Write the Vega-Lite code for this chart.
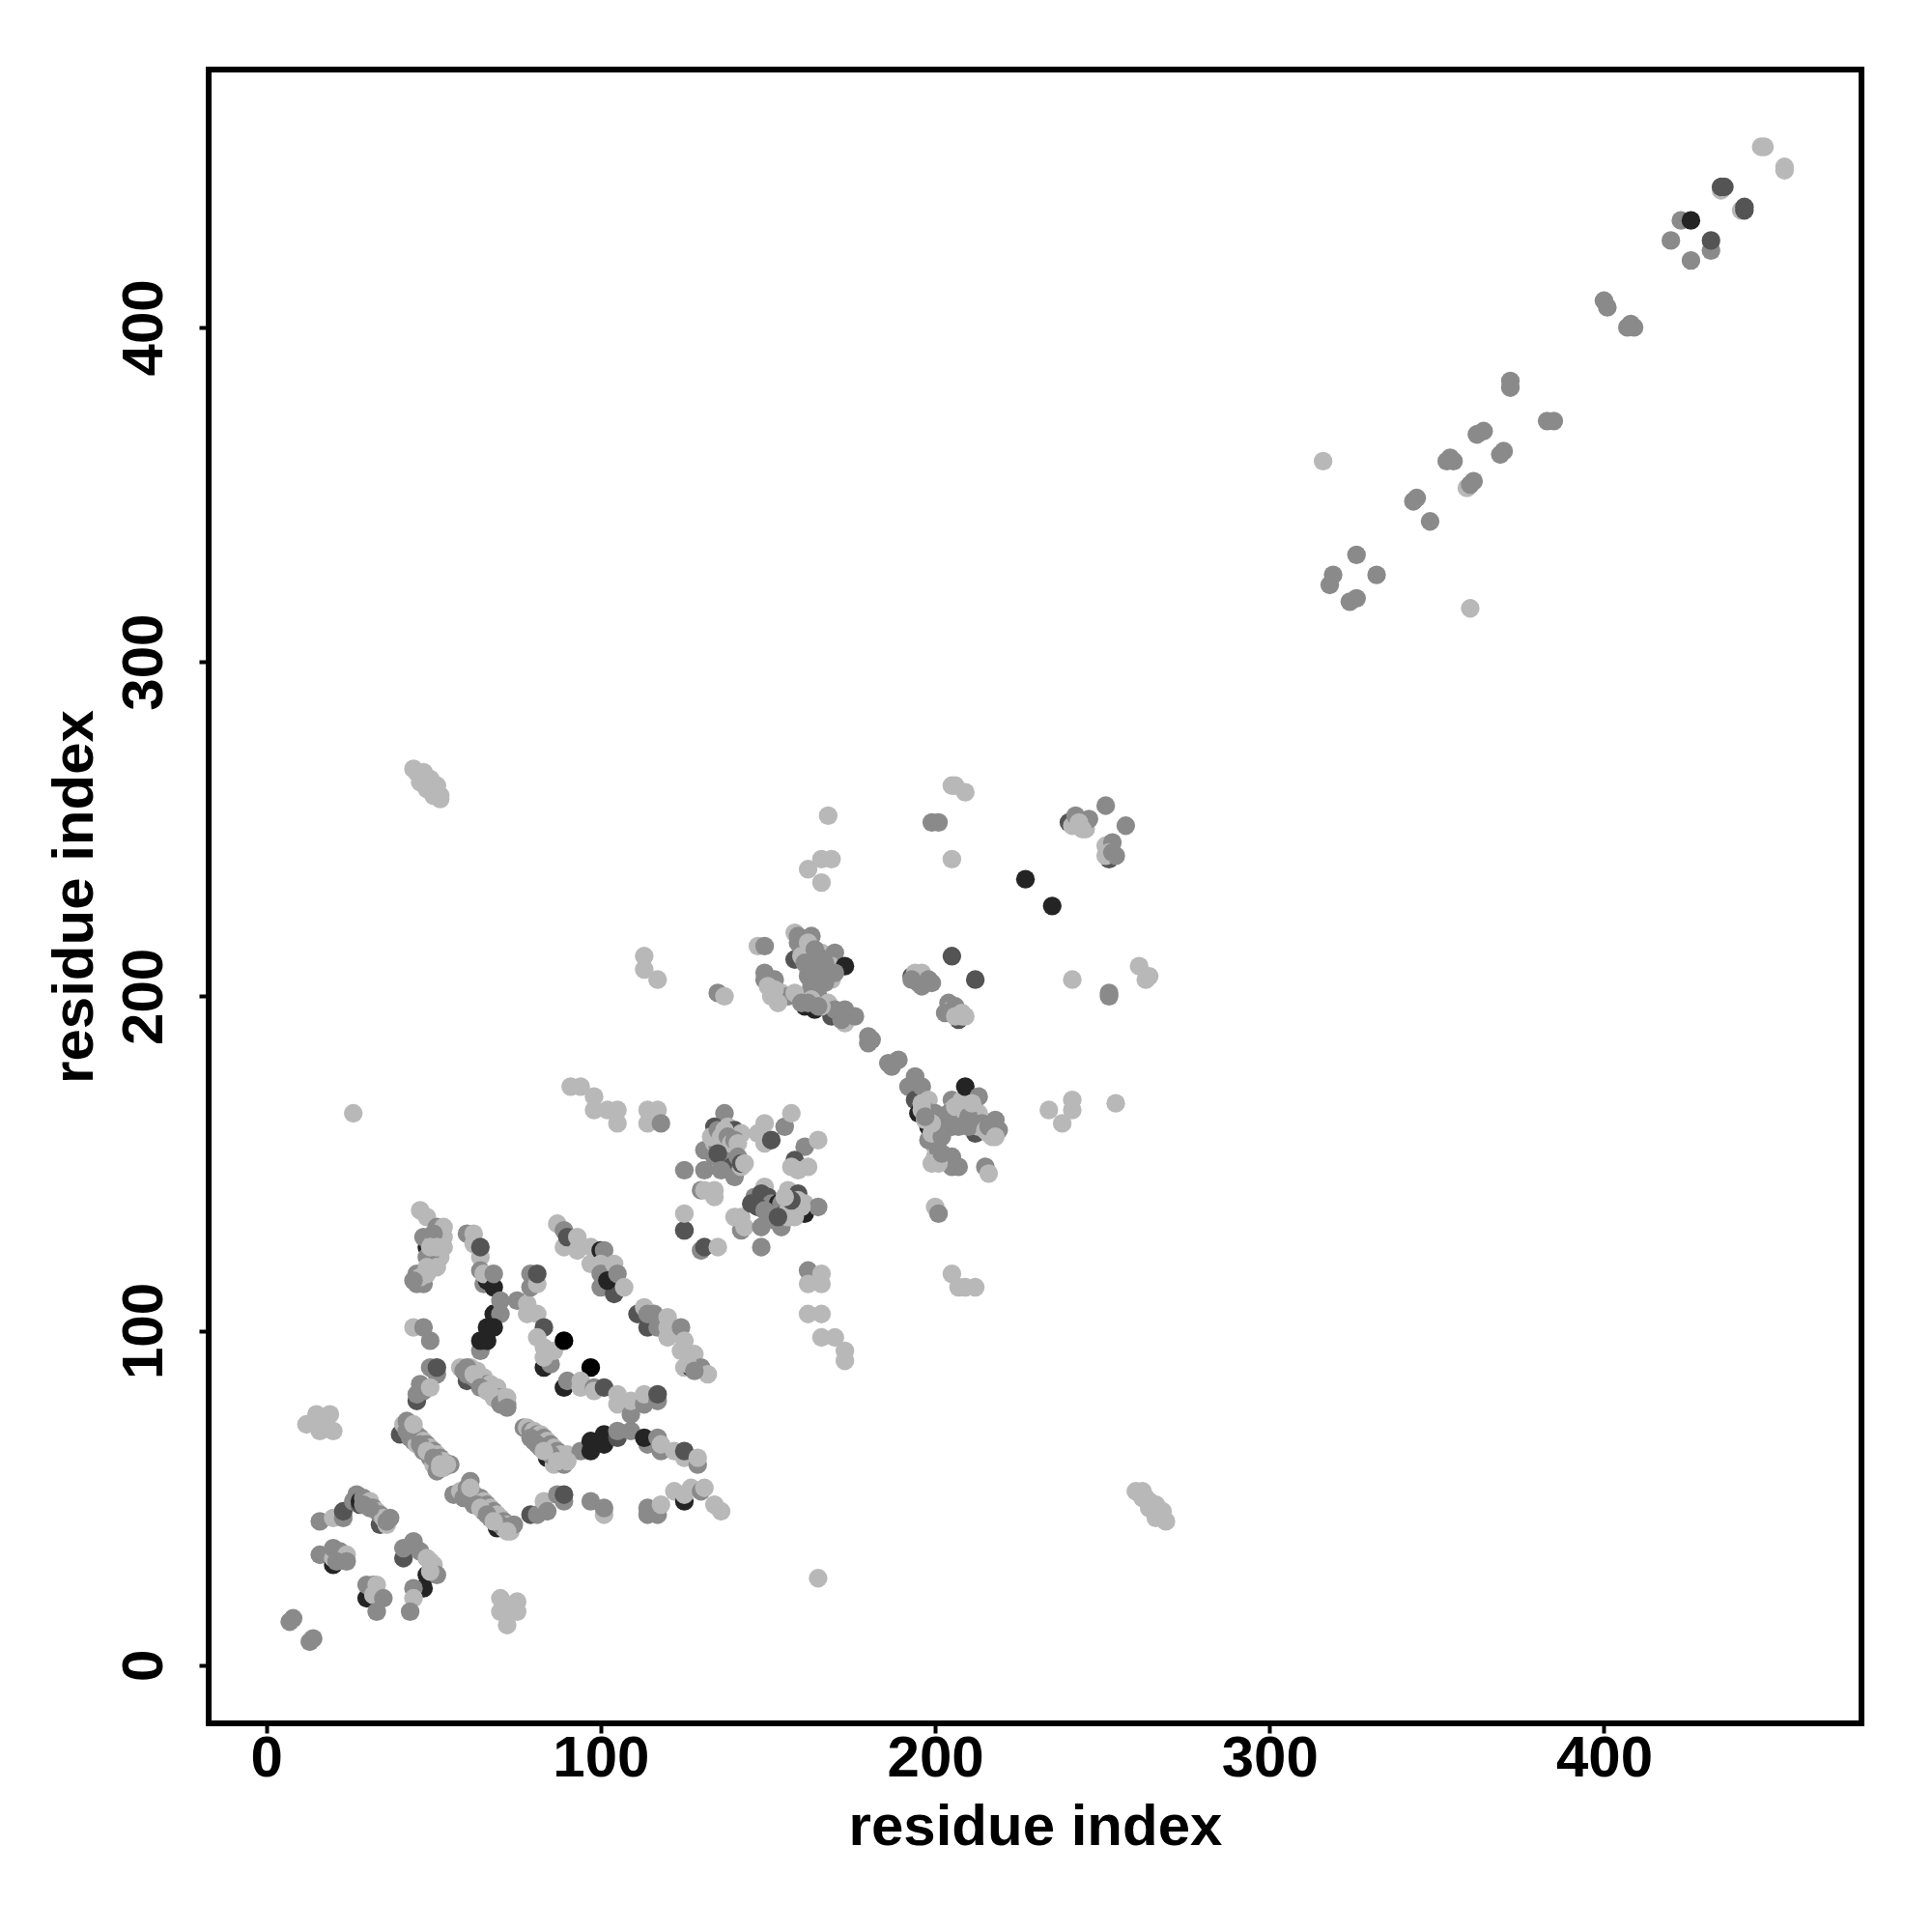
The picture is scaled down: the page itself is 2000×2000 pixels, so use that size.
{"$schema":"https://vega.github.io/schema/vega-lite/v6.json","width":1711,"height":1712,"autosize":{"type":"none"},"padding":{"left":216,"top":72,"right":73,"bottom":216},"background":"white","view":{"stroke":"black","strokeWidth":6,"fill":"white"},"config":{"font":"Liberation Sans"},
"data":{"values":[
{"x":7,"y":13,"v":54},{"x":8,"y":14,"v":54},{"x":13,"y":7,"v":54},{"x":14,"y":8,"v":54},
{"x":16,"y":43,"v":54},{"x":20,"y":44,"v":72},{"x":23,"y":44,"v":54},{"x":23,"y":46,"v":33},{"x":26,"y":49,"v":54},{"x":27,"y":51,"v":54},{"x":28,"y":48,"v":33},{"x":28,"y":49,"v":14},{"x":29,"y":50,"v":54},{"x":30,"y":48,"v":14},{"x":31,"y":49,"v":72},{"x":32,"y":47,"v":54},{"x":33,"y":46,"v":72},{"x":34,"y":42,"v":33},{"x":36,"y":42,"v":72},{"x":34,"y":45,"v":54},{"x":35,"y":44,"v":72},{"x":36,"y":43,"v":54},{"x":37,"y":44,"v":54},
{"x":16,"y":33,"v":54},{"x":20,"y":30,"v":14},{"x":20,"y":32,"v":72},{"x":20,"y":35,"v":54},{"x":22,"y":34,"v":54},{"x":24,"y":33,"v":72},{"x":24,"y":31,"v":54},
{"x":30,"y":20,"v":14},{"x":30,"y":24,"v":54},{"x":32,"y":24,"v":54},{"x":33,"y":24,"v":72},{"x":32,"y":21,"v":72},{"x":35,"y":20,"v":54},{"x":33,"y":16,"v":54},
{"x":41,"y":32,"v":33},{"x":41,"y":35,"v":54},{"x":44,"y":37,"v":54},{"x":46,"y":34,"v":54},{"x":48,"y":32,"v":72},{"x":49,"y":31,"v":72},{"x":50,"y":30,"v":72},{"x":48,"y":27,"v":14},{"x":51,"y":27,"v":54},{"x":47,"y":23,"v":14},{"x":44,"y":23,"v":54},{"x":44,"y":20,"v":72},{"x":43,"y":16,"v":54},
{"x":70,"y":20,"v":72},{"x":75,"y":19,"v":72},{"x":70,"y":16,"v":72},{"x":75,"y":16,"v":72},{"x":72,"y":12,"v":72},{"x":72,"y":18,"v":72},
{"x":12,"y":72,"v":72},{"x":15,"y":75,"v":72},{"x":19,"y":75,"v":72},{"x":16,"y":70,"v":72},{"x":20,"y":70,"v":72},{"x":17,"y":72,"v":72},
{"x":40,"y":69,"v":33},{"x":41,"y":72,"v":72},{"x":42,"y":73,"v":54},{"x":43,"y":72,"v":54},{"x":43,"y":68,"v":54},{"x":44,"y":67,"v":54},{"x":44,"y":70,"v":54},{"x":45,"y":69,"v":72},{"x":45,"y":66,"v":72},{"x":46,"y":68,"v":54},{"x":47,"y":67,"v":72},{"x":47,"y":64,"v":54},{"x":48,"y":66,"v":54},{"x":49,"y":65,"v":72},{"x":49,"y":62,"v":54},{"x":50,"y":64,"v":54},{"x":50,"y":60,"v":72},{"x":51,"y":63,"v":72},{"x":51,"y":58,"v":54},{"x":52,"y":59,"v":72},{"x":52,"y":62,"v":54},{"x":53,"y":59,"v":72},{"x":53,"y":61,"v":72},{"x":55,"y":60,"v":54},
{"x":56,"y":51,"v":54},{"x":58,"y":52,"v":72},{"x":60,"y":50,"v":54},{"x":60,"y":53,"v":54},{"x":61,"y":55,"v":54},{"x":62,"y":48,"v":54},{"x":62,"y":51,"v":54},{"x":63,"y":50,"v":72},{"x":64,"y":50,"v":54},{"x":65,"y":46,"v":54},{"x":65,"y":49,"v":72},{"x":66,"y":48,"v":54},{"x":67,"y":44,"v":54},{"x":67,"y":47,"v":72},{"x":68,"y":46,"v":54},{"x":69,"y":41,"v":14},{"x":69,"y":45,"v":72},{"x":70,"y":44,"v":72},{"x":71,"y":41,"v":72},{"x":71,"y":43,"v":54},{"x":72,"y":42,"v":72},{"x":73,"y":40,"v":72},{"x":74,"y":42,"v":54},
{"x":79,"y":45,"v":33},{"x":81,"y":45,"v":54},{"x":83,"y":49,"v":72},{"x":84,"y":46,"v":54},{"x":87,"y":51,"v":54},{"x":89,"y":49,"v":54},{"x":89,"y":51,"v":33},{"x":97,"y":49,"v":54},{"x":101,"y":45,"v":72},{"x":101,"y":47,"v":54},
{"x":114,"y":47,"v":54},{"x":114,"y":45,"v":54},{"x":117,"y":45,"v":54},{"x":118,"y":48,"v":72},{"x":122,"y":52,"v":72},{"x":125,"y":49,"v":14},{"x":125,"y":51,"v":72},{"x":127,"y":53,"v":72},{"x":130,"y":52,"v":54},{"x":131,"y":53,"v":72},{"x":134,"y":48,"v":72},{"x":136,"y":46,"v":72},
{"x":77,"y":71,"v":54},{"x":78,"y":71,"v":72},{"x":79,"y":70,"v":54},{"x":80,"y":70,"v":72},{"x":80,"y":67,"v":54},{"x":81,"y":69,"v":54},{"x":82,"y":65,"v":54},{"x":82,"y":69,"v":72},{"x":83,"y":68,"v":54},{"x":84,"y":62,"v":14},{"x":84,"y":67,"v":72},{"x":85,"y":66,"v":54},{"x":86,"y":60,"v":72},{"x":86,"y":65,"v":72},{"x":87,"y":64,"v":54},{"x":88,"y":63,"v":72},{"x":89,"y":60,"v":54},{"x":89,"y":62,"v":54},{"x":90,"y":63,"v":72},
{"x":94,"y":64,"v":54},{"x":97,"y":64,"v":14},{"x":97,"y":67,"v":14},{"x":101,"y":66,"v":14},{"x":101,"y":69,"v":14},{"x":105,"y":68,"v":33},{"x":105,"y":70,"v":54},{"x":109,"y":70,"v":54},
{"x":114,"y":66,"v":54},{"x":113,"y":68,"v":14},{"x":117,"y":68,"v":54},{"x":118,"y":64,"v":54},{"x":118,"y":66,"v":72},{"x":122,"y":64,"v":72},{"x":125,"y":62,"v":72},{"x":125,"y":64,"v":33},{"x":129,"y":60,"v":54},{"x":129,"y":62,"v":72},
{"x":58,"y":89,"v":72},{"x":59,"y":88,"v":54},{"x":60,"y":85,"v":33},{"x":60,"y":87,"v":54},{"x":61,"y":89,"v":72},{"x":62,"y":86,"v":54},{"x":63,"y":88,"v":72},{"x":64,"y":85,"v":54},{"x":65,"y":86,"v":72},{"x":66,"y":84,"v":54},{"x":67,"y":84,"v":72},{"x":68,"y":82,"v":54},{"x":69,"y":83,"v":72},{"x":70,"y":80,"v":54},{"x":72,"y":78,"v":54},{"x":71,"y":78,"v":54},{"x":71,"y":80,"v":72},
{"x":49,"y":89,"v":54},{"x":51,"y":87,"v":54},{"x":51,"y":89,"v":33},{"x":45,"y":79,"v":33},{"x":45,"y":81,"v":54},{"x":46,"y":84,"v":54},{"x":47,"y":82,"v":54},{"x":49,"y":83,"v":72},
{"x":44,"y":101,"v":72},{"x":47,"y":101,"v":54},{"x":49,"y":97,"v":54},
{"x":46,"y":136,"v":72},{"x":48,"y":134,"v":72},{"x":51,"y":131,"v":54},{"x":48,"y":125,"v":14},{"x":50,"y":125,"v":33},{"x":45,"y":114,"v":54},{"x":47,"y":114,"v":54},{"x":45,"y":117,"v":54},{"x":48,"y":117,"v":72},{"x":50,"y":120,"v":72},{"x":52,"y":122,"v":72},{"x":52,"y":125,"v":72},{"x":53,"y":128,"v":72},{"x":53,"y":131,"v":72},
{"x":60,"y":129,"v":54},{"x":62,"y":129,"v":72},{"x":62,"y":126,"v":72},{"x":64,"y":122,"v":72},{"x":64,"y":125,"v":33},{"x":64,"y":118,"v":54},{"x":65,"y":114,"v":54},{"x":66,"y":115,"v":14},{"x":65,"y":117,"v":72},{"x":68,"y":113,"v":14},{"x":68,"y":117,"v":54},
{"x":68,"y":105,"v":14},{"x":70,"y":109,"v":54},{"x":70,"y":105,"v":54},{"x":66,"y":101,"v":14},{"x":68,"y":101,"v":14},{"x":64,"y":94,"v":54},{"x":64,"y":97,"v":14},{"x":66,"y":97,"v":14},
{"x":75,"y":109,"v":54},{"x":78,"y":108,"v":72},{"x":79,"y":113,"v":54},{"x":79,"y":117,"v":54},{"x":81,"y":114,"v":72},{"x":81,"y":117,"v":33},{"x":78,"y":105,"v":72},{"x":81,"y":105,"v":72},{"x":83,"y":101,"v":33},{"x":81,"y":98,"v":72},{"x":83,"y":95,"v":72},{"x":83,"y":89,"v":14},{"x":85,"y":90,"v":54},{"x":83,"y":92,"v":72},{"x":86,"y":94,"v":72},{"x":89,"y":97,"v":0},{"x":97,"y":89,"v":0},
{"x":89,"y":83,"v":14},{"x":90,"y":85,"v":54},{"x":94,"y":83,"v":72},{"x":94,"y":85,"v":72},{"x":98,"y":83,"v":54},{"x":98,"y":82,"v":72},{"x":101,"y":83,"v":33},{"x":105,"y":78,"v":72},{"x":105,"y":81,"v":72},{"x":109,"y":75,"v":54},{"x":109,"y":79,"v":72},{"x":113,"y":78,"v":54},{"x":113,"y":81,"v":72},{"x":117,"y":79,"v":54},{"x":117,"y":81,"v":33},
{"x":87,"y":132,"v":72},{"x":89,"y":125,"v":72},{"x":89,"y":130,"v":54},{"x":90,"y":128,"v":33},{"x":93,"y":124,"v":72},{"x":93,"y":128,"v":72},{"x":97,"y":125,"v":72},{"x":97,"y":120,"v":72},{"x":100,"y":124,"v":14},{"x":101,"y":124,"v":54},{"x":100,"y":120,"v":72},{"x":100,"y":117,"v":54},{"x":100,"y":113,"v":54},{"x":104,"y":111,"v":33},{"x":102,"y":115,"v":14},{"x":104,"y":120,"v":72},{"x":105,"y":117,"v":54},{"x":107,"y":113,"v":72},
{"x":111,"y":105,"v":33},{"x":113,"y":107,"v":72},{"x":114,"y":101,"v":33},{"x":114,"y":105,"v":54},{"x":116,"y":105,"v":54},{"x":117,"y":101,"v":54},{"x":120,"y":98,"v":72},{"x":120,"y":101,"v":72},{"x":120,"y":104,"v":72},{"x":124,"y":101,"v":54},{"x":125,"y":97,"v":72},{"x":124,"y":94,"v":72},{"x":125,"y":89,"v":72},{"x":127,"y":89,"v":14},{"x":128,"y":93,"v":72},{"x":130,"y":89,"v":54},{"x":132,"y":87,"v":72},
{"x":91,"y":173,"v":72},{"x":94,"y":173,"v":72},{"x":98,"y":170,"v":72},{"x":98,"y":166,"v":72},{"x":102,"y":166,"v":72},{"x":105,"y":166,"v":72},{"x":105,"y":162,"v":72},{"x":114,"y":166,"v":72},{"x":117,"y":166,"v":72},{"x":114,"y":162,"v":72},{"x":118,"y":162,"v":54},
{"x":125,"y":148,"v":54},{"x":131,"y":148,"v":54},{"x":131,"y":154,"v":54},{"x":137,"y":165,"v":54},{"x":134,"y":161,"v":33},{"x":138,"y":161,"v":72},{"x":140,"y":160,"v":33},{"x":142,"y":159,"v":72},{"x":134,"y":156,"v":72},{"x":135,"y":155,"v":54},{"x":136,"y":154,"v":72},{"x":136,"y":151,"v":33},{"x":137,"y":156,"v":54},{"x":138,"y":154,"v":72},{"x":139,"y":152,"v":54},{"x":139,"y":149,"v":33},{"x":140,"y":147,"v":33},{"x":140,"y":146,"v":54},{"x":142,"y":149,"v":72},
{"x":147,"y":159,"v":72},{"x":149,"y":156,"v":72},{"x":149,"y":162,"v":72},{"x":151,"y":157,"v":33},{"x":155,"y":161,"v":54},{"x":157,"y":165,"v":72},{"x":161,"y":155,"v":54},{"x":165,"y":157,"v":72},{"x":158,"y":151,"v":33},{"x":157,"y":149,"v":72},{"x":159,"y":148,"v":72},{"x":162,"y":149,"v":72},
{"x":130,"y":142,"v":54},{"x":131,"y":142,"v":72},{"x":134,"y":142,"v":72},{"x":134,"y":140,"v":72},{"x":125,"y":130,"v":54},{"x":125,"y":130,"v":33},{"x":125,"y":135,"v":72},{"x":130,"y":124,"v":54},{"x":131,"y":125,"v":33},{"x":135,"y":125,"v":72},{"x":142,"y":130,"v":54},{"x":140,"y":134,"v":72},{"x":142,"y":134,"v":72},{"x":143,"y":131,"v":72},{"x":148,"y":131,"v":54},{"x":148,"y":125,"v":54},{"x":154,"y":131,"v":54},
{"x":146,"y":140,"v":54},{"x":149,"y":143,"v":72},{"x":148,"y":141,"v":33},{"x":150,"y":140,"v":33},{"x":151,"y":138,"v":54},{"x":152,"y":136,"v":72},{"x":153,"y":138,"v":14},{"x":154,"y":138,"v":54},{"x":155,"y":135,"v":33},{"x":156,"y":136,"v":72},{"x":156,"y":142,"v":72},{"x":157,"y":140,"v":72},{"x":158,"y":137,"v":54},{"x":159,"y":141,"v":33},{"x":161,"y":135,"v":14},{"x":161,"y":138,"v":72},{"x":165,"y":137,"v":54},
{"x":113,"y":212,"v":72},{"x":113,"y":208,"v":72},{"x":117,"y":205,"v":72},{"x":135,"y":201,"v":54},{"x":137,"y":200,"v":72},{"x":147,"y":215,"v":72},{"x":149,"y":215,"v":54},
{"x":149,"y":207,"v":54},{"x":149,"y":205,"v":54},{"x":152,"y":205,"v":54},{"x":151,"y":200,"v":72},{"x":154,"y":201,"v":72},{"x":156,"y":200,"v":54},{"x":161,"y":197,"v":14},{"x":164,"y":196,"v":14},{"x":161,"y":200,"v":54},{"x":165,"y":200,"v":54},{"x":169,"y":194,"v":33},{"x":168,"y":198,"v":72},{"x":170,"y":196,"v":54},{"x":173,"y":192,"v":72},{"x":173,"y":196,"v":54},{"x":176,"y":194,"v":54},
{"x":158,"y":219,"v":72},{"x":159,"y":218,"v":54},{"x":163,"y":218,"v":54},{"x":158,"y":211,"v":33},{"x":160,"y":214,"v":54},{"x":163,"y":213,"v":72},{"x":166,"y":213,"v":72},{"x":170,"y":213,"v":54},{"x":168,"y":209,"v":33},{"x":169,"y":209,"v":72},{"x":173,"y":209,"v":14},{"x":162,"y":208,"v":72},{"x":162,"y":206,"v":54},{"x":166,"y":205,"v":54},{"x":169,"y":205,"v":72},
{"x":180,"y":186,"v":54},{"x":181,"y":187,"v":54},{"x":180,"y":188,"v":54},{"x":186,"y":180,"v":54},{"x":187,"y":179,"v":54},{"x":189,"y":181,"v":54},
{"x":192,"y":173,"v":54},{"x":194,"y":176,"v":54},{"x":194,"y":169,"v":33},{"x":196,"y":173,"v":54},{"x":195,"y":165,"v":14},{"x":198,"y":169,"v":72},{"x":198,"y":161,"v":14},{"x":200,"y":152,"v":72},{"x":200,"y":155,"v":72},{"x":200,"y":165,"v":54},{"x":201,"y":161,"v":54},{"x":201,"y":157,"v":54},{"x":205,"y":149,"v":54},{"x":205,"y":152,"v":54},{"x":207,"y":149,"v":54},{"x":215,"y":149,"v":54},{"x":216,"y":147,"v":72},
{"x":205,"y":169,"v":54},{"x":206,"y":163,"v":54},{"x":208,"y":166,"v":14},{"x":205,"y":166,"v":72},{"x":208,"y":163,"v":72},{"x":208,"y":169,"v":72},{"x":209,"y":173,"v":14},{"x":213,"y":170,"v":54},{"x":212,"y":159,"v":33},{"x":213,"y":165,"v":72},{"x":213,"y":161,"v":72},{"x":216,"y":159,"v":72},{"x":217,"y":158,"v":72},{"x":218,"y":163,"v":54},{"x":219,"y":160,"v":54},
{"x":200,"y":137,"v":72},{"x":201,"y":135,"v":54},{"x":205,"y":117,"v":72},{"x":207,"y":113,"v":72},{"x":209,"y":113,"v":72},{"x":212,"y":113,"v":72},
{"x":162,"y":118,"v":54},{"x":166,"y":117,"v":72},{"x":162,"y":114,"v":72},{"x":166,"y":114,"v":72},{"x":162,"y":105,"v":72},{"x":166,"y":105,"v":72},{"x":166,"y":98,"v":72},{"x":170,"y":98,"v":72},{"x":173,"y":94,"v":72},{"x":173,"y":91,"v":72},
{"x":205,"y":263,"v":72},{"x":206,"y":263,"v":72},{"x":209,"y":261,"v":72},{"x":199,"y":252,"v":54},{"x":201,"y":252,"v":54},{"x":205,"y":241,"v":72},{"x":227,"y":235,"v":14},{"x":235,"y":227,"v":14},
{"x":251,"y":257,"v":54},{"x":257,"y":251,"v":54},{"x":240,"y":252,"v":33},{"x":241,"y":251,"v":72},{"x":242,"y":254,"v":54},{"x":245,"y":250,"v":72},{"x":246,"y":253,"v":54},{"x":252,"y":241,"v":33},{"x":251,"y":242,"v":72},{"x":251,"y":245,"v":72},{"x":253,"y":246,"v":54},{"x":254,"y":242,"v":54},
{"x":205,"y":212,"v":33},{"x":212,"y":205,"v":33},{"x":193,"y":206,"v":33},{"x":194,"y":207,"v":72},{"x":195,"y":204,"v":54},{"x":197,"y":204,"v":54},{"x":204,"y":198,"v":54},{"x":205,"y":195,"v":54},{"x":207,"y":193,"v":33},{"x":208,"y":194,"v":72},
{"x":261,"y":209,"v":72},{"x":263,"y":205,"v":72},{"x":264,"y":206,"v":72},{"x":241,"y":205,"v":72},{"x":252,"y":201,"v":54},{"x":252,"y":200,"v":54},{"x":234,"y":166,"v":72},{"x":241,"y":169,"v":72},{"x":241,"y":166,"v":72},{"x":238,"y":162,"v":72},{"x":254,"y":168,"v":72},
{"x":26,"y":165,"v":72},{"x":165,"y":26,"v":72},
{"x":44,"y":268,"v":72},{"x":45,"y":267,"v":72},{"x":46,"y":266,"v":72},{"x":47,"y":265,"v":72},{"x":48,"y":264,"v":72},{"x":49,"y":263,"v":72},{"x":50,"y":262,"v":72},{"x":51,"y":261,"v":72},{"x":52,"y":260,"v":72},{"x":52,"y":259,"v":72},{"x":47,"y":267,"v":72},{"x":49,"y":265,"v":72},{"x":51,"y":263,"v":72},{"x":46,"y":264,"v":72},{"x":48,"y":262,"v":72},{"x":50,"y":260,"v":72},
{"x":168,"y":254,"v":72},{"x":162,"y":238,"v":72},{"x":166,"y":241,"v":72},{"x":169,"y":241,"v":72},{"x":166,"y":234,"v":72},
{"x":260,"y":52,"v":72},{"x":262,"y":52,"v":72},{"x":263,"y":50,"v":72},{"x":264,"y":49,"v":72},{"x":265,"y":47,"v":72},{"x":266,"y":46,"v":72},{"x":267,"y":45,"v":72},{"x":268,"y":44,"v":72},{"x":269,"y":43,"v":72},{"x":262,"y":50,"v":72},{"x":264,"y":47,"v":72},{"x":266,"y":48,"v":72},{"x":266,"y":44,"v":72},{"x":268,"y":46,"v":72},
{"x":316,"y":360,"v":72},{"x":360,"y":316,"v":72},{"x":318,"y":323,"v":54},{"x":319,"y":326,"v":54},{"x":326,"y":332,"v":54},{"x":332,"y":326,"v":54},{"x":324,"y":318,"v":54},{"x":326,"y":319,"v":54},
{"x":343,"y":348,"v":54},{"x":344,"y":349,"v":54},{"x":348,"y":342,"v":54},{"x":353,"y":360,"v":54},{"x":354,"y":361,"v":54},{"x":355,"y":360,"v":54},{"x":359,"y":352,"v":72},{"x":360,"y":353,"v":54},{"x":361,"y":354,"v":54},{"x":362,"y":368,"v":54},{"x":364,"y":369,"v":54},{"x":369,"y":362,"v":54},{"x":370,"y":363,"v":54},{"x":372,"y":384,"v":54},{"x":372,"y":382,"v":54},{"x":383,"y":372,"v":54},{"x":385,"y":372,"v":54},
{"x":400,"y":408,"v":54},{"x":401,"y":406,"v":54},{"x":407,"y":400,"v":54},{"x":408,"y":401,"v":54},{"x":409,"y":400,"v":54},
{"x":420,"y":426,"v":54},{"x":423,"y":432,"v":54},{"x":426,"y":432,"v":14},{"x":426,"y":420,"v":54},{"x":432,"y":423,"v":54},{"x":432,"y":426,"v":33},{"x":435,"y":441,"v":72},{"x":435,"y":442,"v":33},{"x":436,"y":442,"v":33},{"x":441,"y":435,"v":72},{"x":442,"y":435,"v":33},{"x":442,"y":436,"v":33},{"x":447,"y":454,"v":72},{"x":448,"y":454,"v":72},{"x":454,"y":448,"v":72},{"x":454,"y":447,"v":72},
{"x":133,"y":158,"v":72},{"x":135,"y":160,"v":54},{"x":136,"y":158,"v":72},{"x":137,"y":160,"v":72},{"x":138,"y":158,"v":54},{"x":139,"y":156,"v":72},{"x":140,"y":157,"v":54},{"x":141,"y":156,"v":72},{"x":134,"y":152,"v":54},{"x":135,"y":153,"v":33},{"x":136,"y":148,"v":54},{"x":141,"y":152,"v":54},{"x":142,"y":150,"v":33},{"x":143,"y":150,"v":72},
{"x":145,"y":138,"v":33},{"x":147,"y":137,"v":33},{"x":149,"y":136,"v":54},{"x":150,"y":134,"v":54},{"x":152,"y":133,"v":54},{"x":154,"y":133,"v":54},{"x":156,"y":134,"v":72},{"x":158,"y":134,"v":72},{"x":159,"y":139,"v":72},{"x":160,"y":137,"v":72},{"x":157,"y":139,"v":33},{"x":155,"y":140,"v":72},{"x":153,"y":134,"v":33},
{"x":159,"y":216,"v":54},{"x":160,"y":212,"v":72},{"x":161,"y":210,"v":54},{"x":162,"y":216,"v":72},{"x":164,"y":214,"v":54},{"x":165,"y":212,"v":54},{"x":167,"y":210,"v":54},{"x":168,"y":207,"v":54},{"x":164,"y":207,"v":54},{"x":170,"y":207,"v":54},{"x":167,"y":204,"v":54},{"x":163,"y":203,"v":54},{"x":158,"y":201,"v":72},{"x":152,"y":202,"v":72},{"x":150,"y":203,"v":72},{"x":153,"y":198,"v":72},{"x":166,"y":197,"v":72},{"x":163,"y":199,"v":72},{"x":160,"y":198,"v":54},{"x":172,"y":193,"v":54},{"x":162,"y":198,"v":54},{"x":165,"y":197,"v":54},
{"x":196,"y":207,"v":72},{"x":198,"y":205,"v":54},{"x":199,"y":204,"v":54},{"x":193,"y":205,"v":54},{"x":196,"y":203,"v":54},{"x":205,"y":196,"v":72},{"x":206,"y":197,"v":54},{"x":203,"y":195,"v":54},{"x":206,"y":194,"v":72},{"x":208,"y":195,"v":72},{"x":209,"y":194,"v":72},
{"x":204,"y":165,"v":54},{"x":205,"y":161,"v":54},{"x":207,"y":161,"v":54},{"x":206,"y":167,"v":72},{"x":210,"y":164,"v":54},{"x":211,"y":168,"v":72},{"x":210,"y":161,"v":54},{"x":214,"y":162,"v":54},{"x":215,"y":160,"v":72},{"x":216,"y":161,"v":54},{"x":218,"y":158,"v":72},{"x":198,"y":157,"v":54},{"x":199,"y":159,"v":72},{"x":202,"y":158,"v":54},{"x":201,"y":154,"v":54},{"x":199,"y":150,"v":72},{"x":201,"y":150,"v":72},{"x":202,"y":153,"v":54},{"x":197,"y":166,"v":54},{"x":197,"y":163,"v":72},{"x":196,"y":168,"v":72},{"x":196,"y":166,"v":72},{"x":199,"y":162,"v":72},{"x":197,"y":164,"v":54},
{"x":47,"y":128,"v":54},{"x":48,"y":122,"v":54},{"x":49,"y":123,"v":54},{"x":51,"y":119,"v":72},{"x":46,"y":116,"v":72},{"x":44,"y":115,"v":54},{"x":50,"y":127,"v":72},{"x":50,"y":129,"v":54},{"x":48,"y":119,"v":72},{"x":53,"y":125,"v":72},{"x":49,"y":125,"v":72},{"x":51,"y":125,"v":72},
{"x":243,"y":252,"v":72},{"x":244,"y":250,"v":72},{"x":252,"y":243,"v":72},{"x":253,"y":243,"v":54},
{"x":85,"y":63,"v":54},{"x":70,"y":42,"v":54},{"x":21,"y":31,"v":54},{"x":29,"y":48,"v":54},{"x":31,"y":47,"v":54},{"x":49,"y":28,"v":72},{"x":126,"y":90,"v":72},{"x":128,"y":88,"v":54},
{"x":42,"y":70,"v":54},{"x":44,"y":72,"v":72},{"x":46,"y":66,"v":54},{"x":48,"y":64,"v":72},{"x":50,"y":62,"v":54},{"x":52,"y":60,"v":72},{"x":54,"y":60,"v":72},
{"x":59,"y":50,"v":54},{"x":61,"y":53,"v":72},{"x":63,"y":48,"v":54},{"x":64,"y":47,"v":72},{"x":66,"y":45,"v":54},{"x":68,"y":43,"v":72},{"x":72,"y":40,"v":72},
{"x":79,"y":68,"v":54},{"x":81,"y":66,"v":54},{"x":83,"y":64,"v":72},{"x":87,"y":61,"v":72},{"x":90,"y":61,"v":72},
{"x":60,"y":89,"v":54},{"x":62,"y":87,"v":72},{"x":64,"y":83,"v":54},{"x":66,"y":82,"v":72},{"x":68,"y":80,"v":72},{"x":70,"y":78,"v":54},{"x":72,"y":80,"v":72},{"x":72,"y":77,"v":54}
]},
"mark":{"type":"circle","size":375,"opacity":1,"clip":true},
"encoding":{
"x":{"field":"x","type":"quantitative","scale":{"domain":[-17.25,477.0],"nice":false,"zero":false},"axis":{"title":"residue index","values":[0,100,200,300,400],"grid":false,"domain":false,"tickColor":"black","tickWidth":4,"tickSize":10,"labelFont":"Liberation Sans","labelFontWeight":"bold","labelFontSize":60,"labelColor":"black","labelPadding":-3,"titleFont":"Liberation Sans","titleFontWeight":"bold","titleFontSize":60,"titleColor":"black","titlePadding":12,"labelFlush":false}},
"y":{"field":"y","type":"quantitative","scale":{"domain":[-17.4,477.1],"nice":false,"zero":false},"axis":{"title":"residue index","values":[0,100,200,300,400],"grid":false,"domain":false,"tickColor":"black","tickWidth":4,"tickSize":10,"labelFont":"Liberation Sans","labelFontWeight":"bold","labelFontSize":60,"labelColor":"black","labelAngle":-90,"labelAlign":"center","labelBaseline":"bottom","labelPadding":26,"titleFont":"Liberation Sans","titleFontWeight":"bold","titleFontSize":60,"titleColor":"black","titlePadding":11}},
"color":{"field":"v","type":"quantitative","legend":null,"scale":{"domain":[0,100],"range":["#000000","#ffffff"],"interpolate":"rgb"}}
}}
